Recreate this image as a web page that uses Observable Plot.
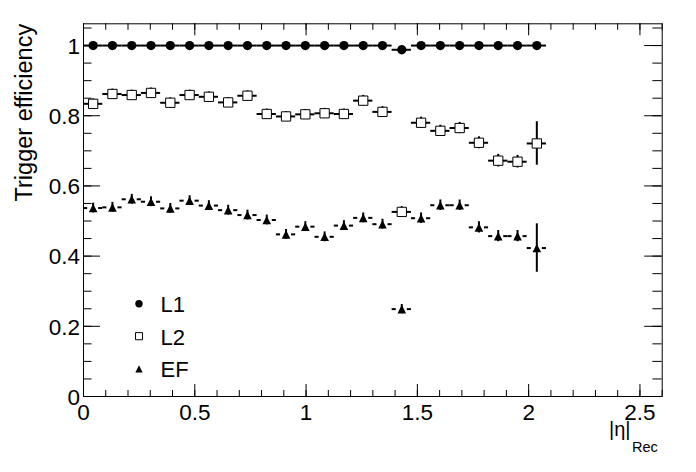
<!DOCTYPE html>
<html>
<head>
<meta charset="utf-8">
<script src="https://cdn.jsdelivr.net/npm/d3@7"></script>
<script src="https://cdn.jsdelivr.net/npm/@observablehq/plot@0.6"></script>
<style>
  html, body { margin: 0; padding: 0; background: #fff; }
</style>
</head>
<body>
<div id="chart"></div>
<script>
// ---- data ----
const etaCenters = [0.0433, 0.1300, 0.2167, 0.3033, 0.3900, 0.4767, 0.5633, 0.6500,
                    0.7367, 0.8233, 0.9100, 0.9967, 1.0833, 1.1700, 1.2567, 1.3433,
                    1.4300, 1.5167, 1.6033, 1.6900, 1.7767, 1.8633, 1.9500, 2.0367];
const halfBin = 0.0433;

const effL1 = [1, 1, 1, 1, 1, 1, 1, 1, 1, 1, 1, 1, 1, 1, 1, 1, 0.988, 1, 1, 1, 1, 1, 1, 1];
const errL1 = [0, 0, 0, 0, 0, 0, 0, 0, 0, 0, 0, 0, 0, 0, 0, 0, 0.003, 0, 0, 0, 0, 0, 0, 0];

const effL2 = [0.834, 0.862, 0.859, 0.865, 0.837, 0.859, 0.854, 0.838, 0.857, 0.805, 0.798, 0.804,
               0.807, 0.805, 0.843, 0.811, 0.526, 0.780, 0.757, 0.765, 0.723, 0.672, 0.669, 0.721];
const errL2 = [0.014, 0.014, 0.014, 0.014, 0.014, 0.014, 0.014, 0.014, 0.014, 0.014, 0.014, 0.014,
               0.014, 0.014, 0.015, 0.015, 0.015, 0.016, 0.016, 0.016, 0.017, 0.018, 0.018, 0.062];

const effEF = [0.537, 0.539, 0.562, 0.555, 0.536, 0.558, 0.544, 0.531, 0.517, 0.503, 0.462, 0.484,
               0.455, 0.487, 0.509, 0.491, 0.249, 0.508, 0.545, 0.545, 0.482, 0.457, 0.457, 0.423];
const errEF = [0.014, 0.014, 0.014, 0.014, 0.014, 0.014, 0.014, 0.014, 0.014, 0.014, 0.014, 0.014,
               0.014, 0.014, 0.014, 0.014, 0.013, 0.015, 0.015, 0.015, 0.016, 0.016, 0.016, 0.069];

const seriesNames = ["L1", "L2", "EF"];

const xTickValues = [0, 0.5, 1, 1.5, 2, 2.5];
const xTickLabels = ["0", "0.5", "1", "1.5", "2", "2.5"];
const yTickValues = [0, 0.2, 0.4, 0.6, 0.8, 1];
const yTickLabels = ["0", "0.2", "0.4", "0.6", "0.8", "1"];
const xMinorTicks = d3.range(0, 2.61, 0.1);
const yMinorTicks = d3.range(0, 1.061, 0.05);

const yTitle = "Trigger efficiency";
const xTitleMain = "|η|";
const xTitleSub = "Rec";

// ---- layout ----
const W = 696, H = 472;
const mL = 83, mR = 34.3, mT = 23.3, mB = 76;
const plotW = W - mL - mR, plotH = H - mT - mB;
const xMax = 2.6;
const font = "'Liberation Sans', Arial, Helvetica, sans-serif";

// ROOT-like triangle (bounding box centred on the point)
const triUp = {
  draw(ctx, size) {
    const h = Math.sqrt(size) / 2;
    ctx.moveTo(0, -h); ctx.lineTo(h, h); ctx.lineTo(-h, h); ctx.closePath();
  }
};

const mk = (vals, errs) => etaCenters.map((x, i) => ({x, v: vals[i], e: errs[i]}));
const dL1 = mk(effL1, errL1), dL2 = mk(effL2, errL2), dEF = mk(effEF, errEF);

const styles = {
  L1: {symbol: "circle", r: 4.65, fill: "black", stroke: "none", lr: 3.7, gapPx: 0},
  L2: {symbol: "square", r: 5.25, fill: "white", stroke: "black", lr: 4.0, gapPx: 0},
  EF: {symbol: triUp,    r: 4.85, fill: "black", stroke: "none", lr: 4.1, gapPx: 5.5}
};
const seriesData = {L1: dL1, L2: dL2, EF: dEF};

const marks = [];

// axis ticks (inward, ROOT style)
marks.push(Plot.ruleY(yTickValues, {y: d => d, insetRight: plotW - 17, stroke: "black"}));
marks.push(Plot.ruleY(yMinorTicks, {y: d => d, insetRight: plotW - 8.5, stroke: "black"}));
marks.push(Plot.ruleY(yTickValues, {y: d => d, insetLeft: plotW - 17.5, stroke: "black"}));
marks.push(Plot.ruleY(yMinorTicks, {y: d => d, insetLeft: plotW - 9.3, stroke: "black"}));
marks.push(Plot.ruleX(xTickValues, {x: d => d, insetTop: plotH - 12, stroke: "black"}));
marks.push(Plot.ruleX(xMinorTicks, {x: d => d, insetTop: plotH - 6, stroke: "black"}));
marks.push(Plot.ruleX(xTickValues, {x: d => d, insetBottom: plotH - 12, stroke: "black"}));
marks.push(Plot.ruleX(xMinorTicks, {x: d => d, insetBottom: plotH - 6.5, stroke: "black"}));

// error bars and markers
for (const name of seriesNames) {
  const data = seriesData[name];
  const gap = styles[name].gapPx * xMax / plotW;
  if (gap > 0) {
    marks.push(Plot.ruleY(data, {y: "v", x1: d => d.x - halfBin, x2: d => d.x - gap, stroke: "black", strokeWidth: 2}));
    marks.push(Plot.ruleY(data, {y: "v", x1: d => d.x + gap, x2: d => d.x + halfBin, stroke: "black", strokeWidth: 2}));
  } else {
    marks.push(Plot.ruleY(data, {y: "v", x1: d => d.x - halfBin, x2: d => d.x + halfBin, stroke: "black", strokeWidth: 2}));
  }
  marks.push(Plot.ruleX(data.filter(d => d.e > 0), {x: "x", y1: d => d.v - d.e, y2: d => d.v + d.e, stroke: "black", strokeWidth: 2}));
}
for (const name of seriesNames) {
  const s = styles[name];
  marks.push(Plot.dot(seriesData[name], {x: "x", y: "v", symbol: s.symbol, r: s.r, fill: s.fill, stroke: s.stroke, strokeWidth: 1}));
}

marks.push(Plot.frame({stroke: "black", strokeWidth: 1}));

// tick labels
marks.push(Plot.text(xTickValues, {x: d => d, text: (d, i) => xTickLabels[i], frameAnchor: "bottom", dy: 23, lineAnchor: "bottom", textAnchor: "middle", fontSize: 22.5, fill: "black"}));
marks.push(Plot.text(yTickValues, {y: d => d, text: (d, i) => yTickLabels[i], frameAnchor: "left", dx: -3.5, dy: 8.2, lineAnchor: "bottom", textAnchor: "end", fontSize: 22.5, fill: "black"}));

// axis titles
marks.push(Plot.text([yTitle], {text: d => d, frameAnchor: "top-left", dx: -51.3, dy: 0, rotate: -90, textAnchor: "end", lineAnchor: "bottom", fontSize: 23.5, fill: "black"}));
marks.push(Plot.text([xTitleMain], {text: d => d, frameAnchor: "bottom-right", dx: 630 - (W - mR), dy: 435 - (H - mB), textAnchor: "end", lineAnchor: "bottom", fontSize: 20, fill: "black"}));
marks.push(Plot.text([xTitleSub], {text: d => d, frameAnchor: "bottom-right", dx: 631.5 - (W - mR), dy: 451.7 - (H - mB), textAnchor: "start", lineAnchor: "bottom", fontSize: 14.5, fill: "black"}));

// legend
seriesNames.forEach((name, i) => {
  const s = styles[name];
  const markerY = [303.3, 335.7, 368.3][i];
  const textY = [311.7, 344.3, 376.7][i];
  marks.push(Plot.dot([name], {frameAnchor: "top-left", dx: 138.5 - mL, dy: markerY - mT, symbol: s.symbol, r: s.lr, fill: s.fill, stroke: s.stroke, strokeWidth: 1}));
  marks.push(Plot.text([name], {text: d => d, frameAnchor: "top-left", dx: 160 - mL, dy: textY - mT, textAnchor: "start", lineAnchor: "bottom", fontSize: 22, fill: "black"}));
});

const chart = Plot.plot({
  width: W, height: H,
  marginLeft: mL, marginRight: mR, marginTop: mT, marginBottom: mB,
  x: {domain: [0, xMax], axis: null},
  y: {domain: [0, 1.062], axis: null},
  style: {fontFamily: font, background: "white", overflow: "visible"},
  marks
});
document.getElementById("chart").appendChild(chart);
</script>
</body>
</html>
